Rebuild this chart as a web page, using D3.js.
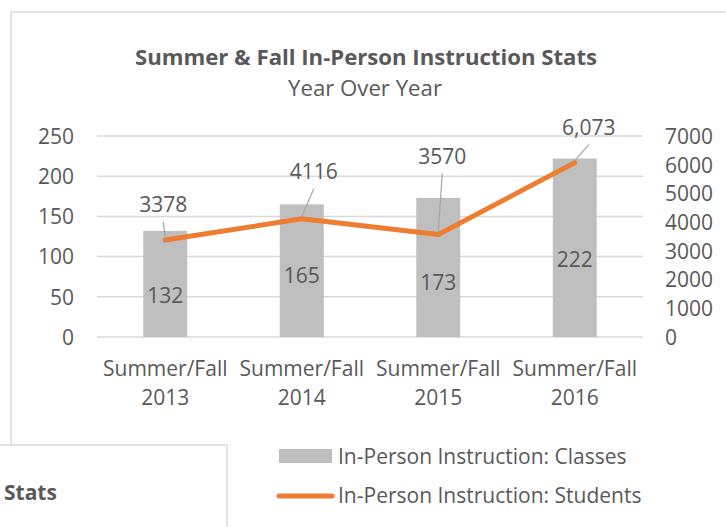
<!DOCTYPE html>
<html>
<head>
<meta charset="utf-8">
<script src="https://cdn.jsdelivr.net/npm/d3@7"></script>
<style>
  body { margin: 0; background: #fff; }
  svg text { font-family: "Open Sans", sans-serif; fill: #595959; }
  .grid line { stroke: #d9d9d9; stroke-width: 1.5; }
  .axis path, .axis line { display: none; }
</style>
</head>
<body>
<svg id="chart" width="726" height="527"></svg>
<script>
// data
const categories = ["Summer/Fall 2013", "Summer/Fall 2014", "Summer/Fall 2015", "Summer/Fall 2016"];
const classes = [132, 165, 173, 222];
const students = [3378, 4116, 3570, 6073];
const studentLabels = ["3378", "4116", "3570", "6,073"];
const leftTicks = [0, 50, 100, 150, 200, 250];
const rightTicks = [0, 1000, 2000, 3000, 4000, 5000, 6000, 7000];

const svg = d3.select("#chart");
const fs = "21px";

// outer chart frame (runs off the right/bottom edge)
svg.append("rect").attr("x", 11).attr("y", 12).attr("width", 740).attr("height", 560)
  .attr("fill", "#fff").attr("stroke", "#d9d9d9").attr("stroke-width", 1.5);

const plot = {left: 97, right: 643, top: 136, bottom: 337};

const x = d3.scaleBand().domain(categories).range([plot.left, plot.right]).paddingInner(0.678).paddingOuter(0.339);
const yL = d3.scaleLinear().domain([0, 250]).range([plot.bottom, plot.top]);
const yR = d3.scaleLinear().domain([0, 7000]).range([plot.bottom, plot.top]);
const cx = (i) => x(categories[i]) + x.bandwidth() / 2;

// title
svg.append("text").attr("x", 366).attr("y", 65).attr("text-anchor", "middle")
  .style("font-weight", "bold").style("font-size", "22px")
  .attr("textLength", 462).attr("lengthAdjust", "spacingAndGlyphs")
  .text("Summer & Fall In-Person Instruction Stats");
svg.append("text").attr("x", 365).attr("y", 96).attr("text-anchor", "middle")
  .style("font-size", "22px").attr("textLength", 154).attr("lengthAdjust", "spacingAndGlyphs")
  .text("Year Over Year");

// gridlines
svg.append("g").attr("class", "grid")
  .selectAll("line").data(leftTicks).enter().append("line")
  .attr("x1", plot.left).attr("x2", plot.right)
  .attr("y1", d => yL(d)).attr("y2", d => yL(d));

// left axis
const gL = svg.append("g").attr("class", "axis").attr("transform", `translate(${plot.left},0)`)
  .call(d3.axisLeft(yL).tickValues(leftTicks).tickSize(0).tickPadding(23));
gL.selectAll("text").style("font-size", fs).attr("dy", "0.35em");

// right axis
const gR = svg.append("g").attr("class", "axis").attr("transform", `translate(${plot.right},0)`)
  .call(d3.axisRight(yR).tickValues(rightTicks).tickFormat(d3.format("d")).tickSize(0).tickPadding(22));
gR.selectAll("text").style("font-size", fs).attr("dy", "0.35em");

// bars
svg.append("g").selectAll("rect").data(classes).enter().append("rect")
  .attr("x", (d, i) => x(categories[i]))
  .attr("width", x.bandwidth())
  .attr("y", d => yL(d))
  .attr("height", d => yL(0) - yL(d))
  .attr("fill", "#bfbfbf");

// bar value labels, nudged like the original
const barLabelNudge = [12, 5, 15, 12];
svg.append("g").selectAll("text").data(classes).enter().append("text")
  .attr("x", (d, i) => cx(i))
  .attr("y", (d, i) => (yL(d) + yL(0)) / 2 + barLabelNudge[i])
  .attr("dy", "0.35em").attr("text-anchor", "middle").style("font-size", fs)
  .text(d => d);

// student line
const line = d3.line().x((d, i) => cx(i)).y(d => yR(d));
svg.append("path").datum(students).attr("d", line)
  .attr("fill", "none").attr("stroke", "#ed7d31").attr("stroke-width", 5)
  .attr("stroke-linejoin", "round").attr("stroke-linecap", "round");

// line labels with leader lines
const lblOff = [{dx: -2, dy: -35}, {dx: 12, dy: -47}, {dx: 4, dy: -78}, {dx: 14, dy: -35}];
const lbl = svg.append("g");
students.forEach((d, i) => {
  const px = cx(i), py = yR(d);
  const tx = px + lblOff[i].dx, ty = py + lblOff[i].dy;
  lbl.append("line").attr("x1", tx).attr("y1", ty + 17).attr("x2", px).attr("y2", py - 2)
    .attr("stroke", "#a6a6a6").attr("stroke-width", 1.2);
  lbl.append("text").attr("x", tx).attr("y", ty).attr("dy", "0.35em")
    .attr("text-anchor", "middle").style("font-size", fs).text(studentLabels[i]);
});

// category labels on two lines
const xl = svg.append("g").selectAll("text").data(categories).enter().append("text")
  .attr("text-anchor", "middle").style("font-size", fs);
xl.each(function(d, i) {
  const parts = d.split(" ");
  const t = d3.select(this);
  t.append("tspan").attr("x", cx(i)).attr("y", 376).text(parts[0]);
  t.append("tspan").attr("x", cx(i)).attr("y", 405).text(parts[1]);
});

// legend
const lg = svg.append("g");
lg.append("rect").attr("x", 279).attr("y", 449).attr("width", 53).attr("height", 14).attr("fill", "#bfbfbf");
lg.append("text").attr("x", 338).attr("y", 464).style("font-size", fs).text("In-Person Instruction: Classes");
lg.append("line").attr("x1", 279).attr("x2", 332).attr("y1", 496).attr("y2", 496)
  .attr("stroke", "#ed7d31").attr("stroke-width", 5).attr("stroke-linecap", "round");
lg.append("text").attr("x", 338).attr("y", 503).style("font-size", fs).text("In-Person Instruction: Students");

// overlapping second chart frame at bottom left
svg.append("rect").attr("x", -2).attr("y", 445).attr("width", 229).attr("height", 100)
  .attr("fill", "#fff").attr("stroke", "#d9d9d9").attr("stroke-width", 1.5);
svg.append("text").attr("x", 4).attr("y", 500).style("font-weight", "bold").style("font-size", fs)
  .text("Stats");
</script>
</body>
</html>
